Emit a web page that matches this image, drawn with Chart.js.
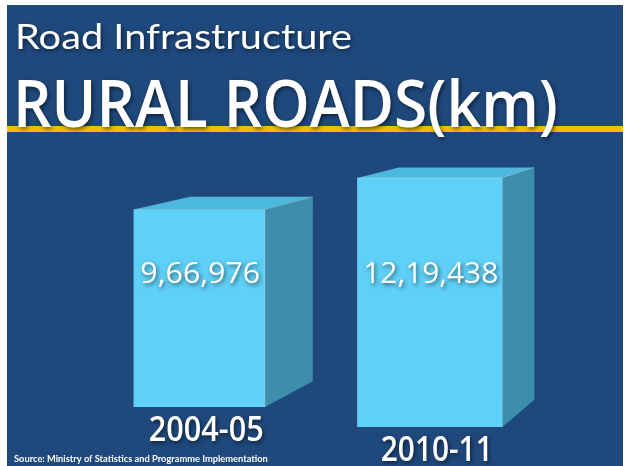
<!DOCTYPE html>
<html><head><meta charset="utf-8">
<script src="https://cdn.jsdelivr.net/npm/chart.js@4"></script>
<style>html,body{margin:0;padding:0;background:#fff}canvas{display:block}</style>
</head><body>
<canvas id="c" width="629" height="466"></canvas>
<script>
// ---- data ----
const categories = ['2004-05', '2010-11'];
const ruralRoadsKm = [966976, 1219438];
const titleTop = 'Road Infrastructure';
const titleMain = 'RURAL ROADS(km)';
const sourceNote = 'Source: Ministry of Statistics and Programme Implementation';

// ---- style ----
const LATO = 'Lato, "Open Sans", sans-serif';
const OPEN = '"Open Sans", Lato, sans-serif';
const BG_BLUE = '#1f497d';
const GOLD = '#f7bc00';
const FRONT = '#5fd0f7';
const TOP = '#4db8de';
const SIDE = '#3d8eaa';
const VP = {x: 979, y: 21.5};   // vanishing point for the 3D boxes
const DEPTH = 0.067;
const boxScale = [0.95, 1.05];
const boxDrop = [-10, 10];

function fmtIN(n) {
  const s = String(n);
  const last3 = s.slice(-3);
  let rest = s.slice(0, -3);
  if (!rest) return last3;
  rest = rest.replace(/\B(?=(\d{2})+(?!\d))/g, ',');
  return rest + ',' + last3;
}

// draw white text fitted to a width and cap height
function drawFit(ctx, text, x, y, width, capH, weight, family, align, shadow) {
  ctx.save();
  ctx.font = weight + ' 100px ' + family;
  const m = ctx.measureText(text);
  const size = 100 * width / m.width;
  ctx.font = weight + ' ' + size.toFixed(2) + 'px ' + family;
  const asc = ctx.measureText('H').actualBoundingBoxAscent || size * 0.72;
  const sy = capH / asc;
  ctx.textAlign = align;
  ctx.textBaseline = 'alphabetic';
  ctx.translate(x, y);
  ctx.scale(1, sy);
  if (shadow) {
    ctx.shadowColor = 'rgba(0,0,0,0.55)';
    ctx.shadowBlur = 4;
    ctx.shadowOffsetX = 1.5;
    ctx.shadowOffsetY = 1.5;
  }
  ctx.fillStyle = '#ffffff';
  ctx.fillText(text, 0, 0);
  ctx.restore();
}

function back(p) {
  return {x: p.x + DEPTH * (VP.x - p.x), y: p.y + DEPTH * (VP.y - p.y)};
}

function poly(ctx, pts, fill) {
  ctx.beginPath();
  ctx.moveTo(pts[0].x, pts[0].y);
  for (let i = 1; i < pts.length; i++) ctx.lineTo(pts[i].x, pts[i].y);
  ctx.closePath();
  ctx.fillStyle = fill;
  ctx.fill();
}

const slidePlugin = {
  id: 'slide',
  beforeDraw(chart) {
    const ctx = chart.ctx;
    ctx.save();
    ctx.fillStyle = '#ffffff';
    ctx.fillRect(0, 0, chart.width, chart.height);
    ctx.fillStyle = BG_BLUE;
    ctx.fillRect(7, 5, 616, 461);
    ctx.fillStyle = GOLD;
    ctx.fillRect(7, 126, 616, 6);
    drawFit(ctx, titleTop, 15, 49, 337, 26, '400', LATO, 'left', true);
    drawFit(ctx, titleMain, 13, 127, 545, 46, '600', OPEN, 'left', true);
    drawFit(ctx, sourceNote, 14, 462, 254, 6.5, '700', LATO, 'left', false);
    ctx.restore();
  },
  afterDatasetsDraw(chart) {
    const ctx = chart.ctx;
    const meta = chart.getDatasetMeta(0);
    ctx.save();
    meta.data.forEach((bar, i) => {
      const p = bar.getProps(['x', 'y', 'base', 'width'], true);
      const w = p.width * boxScale[i];
      const L = p.x - w / 2, R = p.x + w / 2;
      const T = p.y + boxDrop[i], B = p.base + boxDrop[i];
      const fTL = {x: L, y: T}, fTR = {x: R, y: T}, fBR = {x: R, y: B}, fBL = {x: L, y: B};
      const bTL = back(fTL), bTR = back(fTR), bBR = back(fBR);
      poly(ctx, [fTL, fTR, bTR, bTL], TOP);
      poly(ctx, [fTR, fBR, bBR, bTR], SIDE);
      poly(ctx, [fTL, fTR, fBR, fBL], FRONT);
      ctx.strokeStyle = 'rgba(255,255,255,0.25)';
      ctx.lineWidth = 1;
      ctx.beginPath();
      ctx.moveTo(fTL.x, fTL.y); ctx.lineTo(fTR.x, fTR.y); ctx.lineTo(bTR.x, bTR.y);
      ctx.moveTo(fTR.x, fTR.y); ctx.lineTo(fBR.x, fBR.y);
      ctx.stroke();

      const label = fmtIN(chart.data.datasets[0].data[i]);
      drawFit(ctx, label, p.x + 1, 283, i === 0 ? 120 : 135, 21, '400', OPEN, 'center', true);

      const cat = chart.data.labels[i];
      drawFit(ctx, cat, p.x + 7, B + 34, i === 0 ? 115 : 112, 25, '600', OPEN, 'center', true);
    });
    ctx.restore();
  }
};

new Chart(document.getElementById('c'), {
  type: 'bar',
  data: {
    labels: categories,
    datasets: [{
      label: 'Rural roads (km)',
      data: ruralRoadsKm,
      backgroundColor: 'rgba(0,0,0,0)',
      borderWidth: 0,
      categoryPercentage: 1.0,
      barPercentage: 0.6
    }]
  },
  options: {
    responsive: false,
    animation: false,
    devicePixelRatio: 1,
    layout: {padding: {top: 131, bottom: 49, left: 84, right: 84}},
    plugins: {legend: {display: false}, tooltip: {enabled: false}, title: {display: false}},
    scales: {
      x: {display: false},
      y: {display: false, min: 0, max: 1400000}
    }
  },
  plugins: [slidePlugin]
});
</script>
</body></html>
